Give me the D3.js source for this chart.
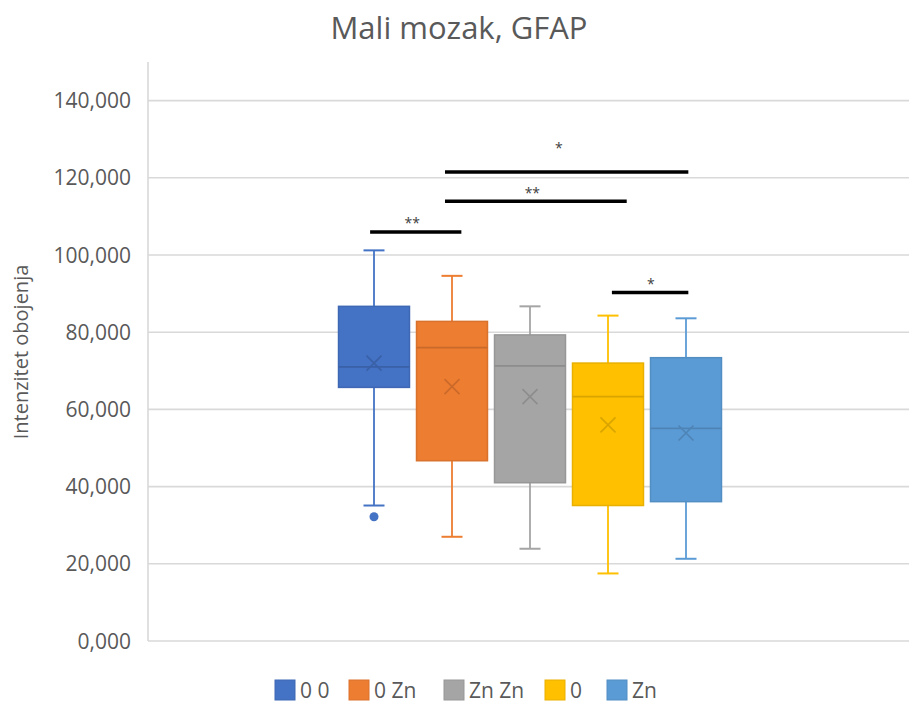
<!DOCTYPE html>
<html><head><meta charset="utf-8">
<script src="https://cdn.jsdelivr.net/npm/d3@7"></script>
<style>body{margin:0;background:#fff;} text{font-family:"Open Sans",sans-serif;}</style>
</head><body>
<svg id="chart" width="909" height="711"></svg>
<script>
const categories = ["0 0", "0 Zn", "Zn Zn", "0", "Zn"];
const colors = ["#4472C4", "#ED7D31", "#A5A5A5", "#FFC000", "#5B9BD5"];
const whiskerLow  = [35100, 27000, 23900, 17500, 21300];
const q1          = [65700, 46700, 41000, 35100, 36100];
const medians     = [71000, 76000, 71300, 63300, 55100];
const q3          = [86700, 82800, 79300, 72000, 73400];
const whiskerHigh = [101200, 94600, 86700, 84300, 83600];
const means       = [72000, 65900, 63300, 56000, 53900];
const outliers    = [[32200], [], [], [], []];
const yTicks = [0, 20000, 40000, 60000, 80000, 100000, 120000, 140000];
// significance brackets (category index units, values in data units)
const sigFrom   = [0.91, 0.91, -0.05, 3.05];
const sigTo     = [4.03, 3.24, 1.12, 4.03];
const sigLevel  = [121500, 113900, 105950, 90300];
const sigLabel  = ["*", "**", "**", "*"];
const sigLabelX = [2.37, 2.03, 0.49, 3.55];
const sigLabelY = [128600, 116900, 109150, 93330];

const svg = d3.select("#chart");
const plot = {left: 148, right: 912, top: 62, bottom: 641};
const y = d3.scaleLinear().domain([0, 150000]).range([plot.bottom, plot.top]);
const x = d3.scaleBand().domain(categories).range([plot.left, plot.right])
  .paddingInner(0.09).paddingOuter(2.4425);
const bw = x.bandwidth();
const cx = i => x(categories[0]) + bw/2 + i * x.step();

// gridlines
svg.append("g").selectAll("line").data(yTicks).join("line")
  .attr("x1", plot.left).attr("x2", 909)
  .attr("y1", d => y(d)).attr("y2", d => y(d))
  .attr("stroke", "#d9d9d9").attr("stroke-width", 1.6);
// axis line
svg.append("line").attr("x1", plot.left).attr("x2", plot.left)
  .attr("y1", y(150000)).attr("y2", y(0)).attr("stroke", "#d9d9d9").attr("stroke-width", 1.6);

// y tick labels
svg.append("g").selectAll("text").data(yTicks).join("text")
  .attr("x", 131).attr("y", d => y(d)).attr("dy", "0.36em")
  .attr("text-anchor", "end").attr("font-size", 21).attr("fill", "#595959")
  .text(d => d === 0 ? "0,000" : d3.format(",")(d/1000) + ",000");

// y axis title
svg.append("text").attr("transform", "translate(28,352) rotate(-90)")
  .attr("text-anchor", "middle").attr("font-size", 20).attr("fill", "#595959")
  .text("Intenzitet obojenja");

// title
svg.append("text").attr("x", 459).attr("y", 39).attr("text-anchor", "middle")
  .attr("font-size", 31).attr("fill", "#595959").text("Mali mozak, GFAP");

// boxes
categories.forEach((c, i) => {
  const g = svg.append("g");
  const col = colors[i];
  const dark = d3.color(col).darker(0.45).formatHex();
  const border = d3.color(col).darker(0.25).formatHex();
  const xc = x(c) + bw/2;
  const cap = 10.5;
  // whiskers
  g.append("line").attr("x1", xc).attr("x2", xc).attr("y1", y(q3[i])).attr("y2", y(whiskerHigh[i]))
    .attr("stroke", col).attr("stroke-width", 1.8);
  g.append("line").attr("x1", xc).attr("x2", xc).attr("y1", y(q1[i])).attr("y2", y(whiskerLow[i]))
    .attr("stroke", col).attr("stroke-width", 1.8);
  [whiskerHigh[i], whiskerLow[i]].forEach(v => {
    g.append("line").attr("x1", xc - cap).attr("x2", xc + cap).attr("y1", y(v)).attr("y2", y(v))
      .attr("stroke", col).attr("stroke-width", 2);
  });
  // box
  g.append("rect").attr("x", x(c)).attr("width", bw)
    .attr("y", y(q3[i])).attr("height", y(q1[i]) - y(q3[i]))
    .attr("fill", col).attr("stroke", border).attr("stroke-width", 1.5);
  // median
  g.append("line").attr("x1", x(c)).attr("x2", x(c) + bw).attr("y1", y(medians[i])).attr("y2", y(medians[i]))
    .attr("stroke", dark).attr("stroke-width", 1.8);
  // mean X
  const my = y(means[i]), s = 7.5;
  g.append("path").attr("d", `M${xc-s},${my-s}L${xc+s},${my+s}M${xc-s},${my+s}L${xc+s},${my-s}`)
    .attr("stroke", dark).attr("stroke-width", 1.6).attr("fill", "none");
  // outliers
  g.selectAll("circle").data(outliers[i]).join("circle")
    .attr("cx", xc).attr("cy", d => y(d)).attr("r", 4.5).attr("fill", col);
});

// significance brackets
sigLevel.forEach((v, i) => {
  svg.append("line").attr("x1", cx(sigFrom[i])).attr("x2", cx(sigTo[i]))
    .attr("y1", y(v)).attr("y2", y(v)).attr("stroke", "#000").attr("stroke-width", 3.5);
  svg.append("text").attr("x", cx(sigLabelX[i])).attr("y", y(sigLabelY[i])).attr("dy", "0.6em")
    .attr("text-anchor", "middle").attr("font-size", 14).attr("fill", "#404040")
    .text(sigLabel[i]);
});

// legend
const legX = [275, 349, 444, 545, 607];
const leg = svg.append("g");
categories.forEach((c, i) => {
  leg.append("rect").attr("x", legX[i]).attr("y", 680).attr("width", 20).attr("height", 20)
    .attr("fill", colors[i]).attr("stroke", d3.color(colors[i]).darker(0.25).formatHex()).attr("stroke-width", 1);
  leg.append("text").attr("x", legX[i] + 25).attr("y", 690).attr("dy", "0.36em")
    .attr("font-size", 21).attr("fill", "#595959").text(c);
});
</script>
</body></html>
